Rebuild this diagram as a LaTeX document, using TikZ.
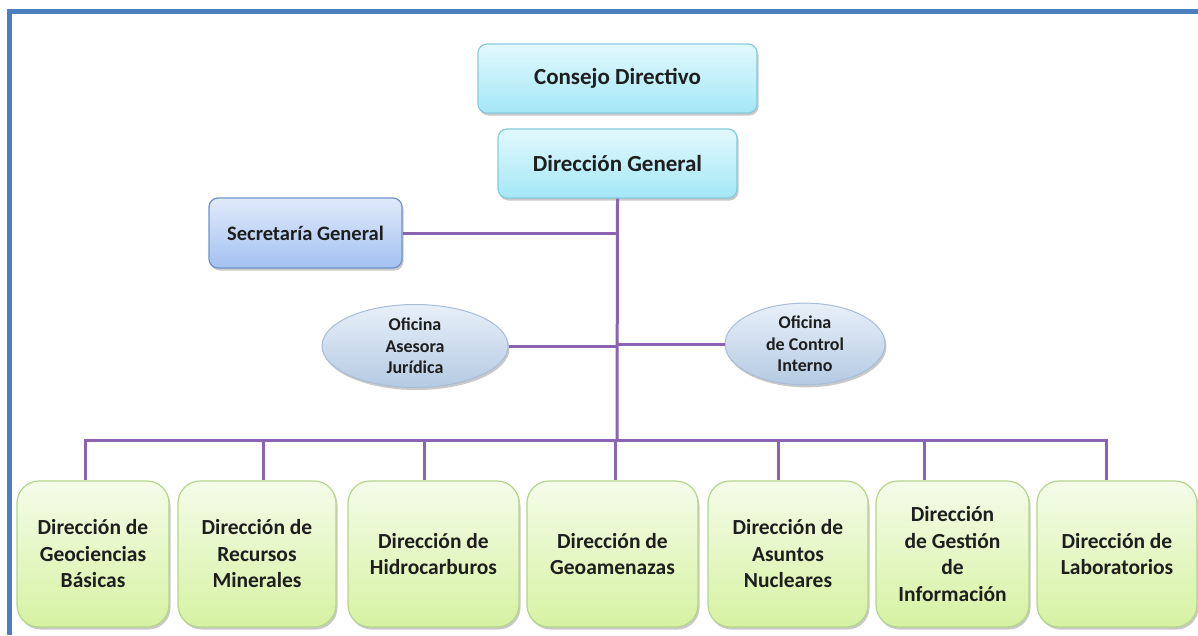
\documentclass[tikz,border=0pt]{standalone}
\usepackage{fontspec}
\setmainfont{Carlito}
\usetikzlibrary{shadows,calc,shapes.geometric}
\definecolor{frameblue}{HTML}{4A80BF}
\definecolor{linkpurple}{HTML}{8A63B3}
\definecolor{txt}{HTML}{1E1E1E}
\definecolor{cyanA}{HTML}{E2F9FD}
\definecolor{cyanB}{HTML}{A4E7F6}
\definecolor{cyanE}{HTML}{86CBDD}
\definecolor{blueA}{HTML}{E0EAFA}
\definecolor{blueB}{HTML}{A3C1F1}
\definecolor{blueE}{HTML}{6E93CC}
\definecolor{ellA}{HTML}{E8F0F9}
\definecolor{ellB}{HTML}{B4CAE3}
\definecolor{ellE}{HTML}{A9BCD6}
\definecolor{greenA}{HTML}{F4FCE9}
\definecolor{greenB}{HTML}{D6F2A2}
\definecolor{greenE}{HTML}{B3D68A}
\tikzset{
  x=1pt, y=-1pt,
  base/.style={align=center, text=txt, inner sep=1pt,
    drop shadow={shadow xshift=1.5pt, shadow yshift=-2.5pt, opacity=0.35, fill=black!60}},
  topbox/.style={base, draw=cyanE, line width=1.2pt, rounded corners=9pt,
    top color=cyanA, bottom color=cyanB, font=\fontsize{23}{27}\selectfont\bfseries},
  secbox/.style={base, draw=blueE, line width=1.2pt, rounded corners=9pt,
    top color=blueA, bottom color=blueB, font=\fontsize{20.5}{24}\selectfont\bfseries},
  office/.style={base, ellipse, draw=ellE, line width=1pt,
    top color=ellA, bottom color=ellB, font=\fontsize{18}{21.5}\selectfont\bfseries},
  unit/.style={base, draw=greenE, line width=1.2pt, rounded corners=22pt,
    top color=greenA, bottom color=greenB, minimum height=146pt,
    font=\fontsize{21.5}{26.5}\selectfont\bfseries},
  link/.style={draw=linkpurple, line width=3pt},
}
\begin{document}
\begin{tikzpicture}
\useasboundingbox (0,0) rectangle (1198,635);
\fill[white] (0,0) rectangle (1198,635);
% frame
\fill[frameblue] (7,9) rectangle (1198,14);
\fill[frameblue] (7,9) rectangle (12,635);

% junctions on the bus
\coordinate (trunk) at (617,440);
\coordinate (j1) at (85,440);
\coordinate (j2) at (263,440);
\coordinate (j3) at (424,440);
\coordinate (j4) at (615,440);
\coordinate (j5) at (778,440);
\coordinate (j6) at (924,440);
\coordinate (j7) at (1106,440);

% top of the hierarchy
\node[topbox, minimum width=279pt, minimum height=69pt] (consejo) at (617.5,78.5) {Consejo Directivo};
\node[topbox, minimum width=239pt, minimum height=69pt] (general) at (617.5,163.5) {Dirección General};
\node[secbox, minimum width=193pt, minimum height=70pt] (secretaria) at (305.5,233) {Secretaría General};

% advisory offices
\node[office, minimum width=186pt, minimum height=83pt] (asesora) at (415,346) {Oficina\\Asesora\\Jurídica};
\node[office, minimum width=160pt, minimum height=81pt] (control) at (805,344) {Oficina\\de Control\\Interno};

% directorates
\node[unit, minimum width=152pt] (b1) at (93,554) {Dirección de\\Geociencias\\Básicas};
\node[unit, minimum width=158pt] (b2) at (257,554) {Dirección de\\Recursos\\Minerales};
\node[unit, minimum width=171pt] (b3) at (433.5,554) {Dirección de\\Hidrocarburos};
\node[unit, minimum width=171pt] (b4) at (612.5,554) {Dirección de\\Geoamenazas};
\node[unit, minimum width=160pt] (b5) at (788,554) {Dirección de\\Asuntos\\Nucleares};
\node[unit, minimum width=153pt] (b6) at (952.5,554) {Dirección\\de Gestión\\de\\Información};
\node[unit, minimum width=160pt] (b7) at (1117,554) {Dirección de\\Laboratorios};

% connectors
\draw[link] (general.south) -- (trunk);
\draw[link] (secretaria.east) -- (secretaria.east -| trunk);
\draw[link] (asesora.east) -- (asesora.east -| trunk);
\draw[link] (control.west) -- (control.west -| trunk);
\draw[link, line cap=rect] (j1) -- (j7);
\foreach \i in {1,...,7} {
  \draw[link] (j\i) -- (j\i |- b\i.north);
}
\end{tikzpicture}
\end{document}
